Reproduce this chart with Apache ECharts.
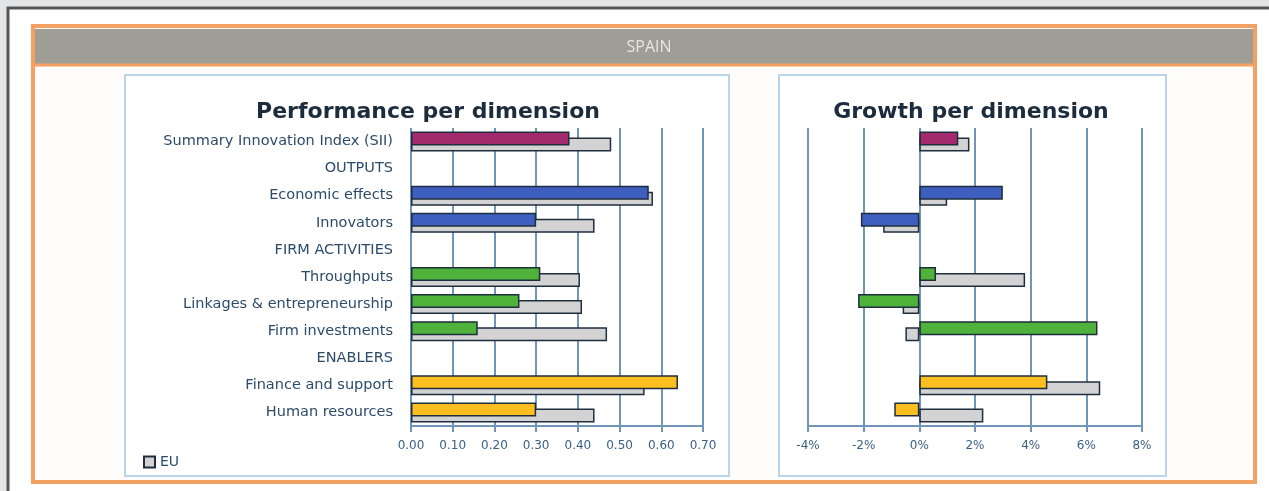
<!DOCTYPE html>
<html>
<head>
<meta charset="utf-8">
<script src="https://cdn.jsdelivr.net/npm/echarts@6/dist/echarts.min.js"></script>
<style>
  html, body { margin: 0; padding: 0; background: #e4e5e7; }
  #main { width: 1269px; height: 491px; }
</style>
</head>
<body>
<div id="main"></div>
<script>
// chart data
var categories = [
  'Summary Innovation Index (SII)', 'OUTPUTS', 'Economic effects', 'Innovators',
  'FIRM ACTIVITIES', 'Throughputs', 'Linkages & entrepreneurship', 'Firm investments',
  'ENABLERS', 'Finance and support', 'Human resources'
];
var groups = ['sii', null, 'outputs', 'outputs', null, 'firm', 'firm', 'firm', null, 'enablers', 'enablers'];
var spainPerf = [0.38, null, 0.57, 0.30, null, 0.31, 0.26, 0.16, null, 0.64, 0.30];
var euPerf = [0.48, null, 0.58, 0.44, null, 0.405, 0.41, 0.47, null, 0.56, 0.44];
var spainGrowth = [1.4, null, 3.0, -2.1, null, 0.6, -2.2, 6.4, null, 4.6, -0.9];
var euGrowth = [1.8, null, 1.0, -1.3, null, 3.8, -0.6, -0.5, null, 6.5, 2.3];
var perfTicks = [0, 0.7, 0.1];
var growthTicks = [-4, 8, 2];

var groupColors = { sii: '#a32a6c', outputs: '#3f5fc0', firm: '#4fb33b', enablers: '#fdbf1f' };
var edge = '#1f2e3e';
var grid = '#6f96b8';
var txt = '#2c4b6b';

function coloured(values) {
  return values.map(function (v, i) {
    if (v === null) return '-';
    return { value: v, itemStyle: { color: groupColors[groups[i]] } };
  });
}
function plain(values) {
  return values.map(function (v) { return v === null ? '-' : v; });
}

function valueAxis(idx, ticks, fmt) {
  return {
    type: 'value', gridIndex: idx, min: ticks[0], max: ticks[1], interval: ticks[2],
    axisLine: { show: true, lineStyle: { color: grid, width: 2 } },
    axisTick: { show: true, length: 6, lineStyle: { color: grid, width: 2 } },
    splitLine: { show: true, lineStyle: { color: grid, width: 2 } },
    axisLabel: { formatter: fmt, color: '#3b6086', fontSize: 12, fontFamily: 'DejaVu Sans', margin: 14 }
  };
}

var chart = echarts.init(document.getElementById('main'));
chart.setOption({
  animation: false,
  backgroundColor: '#e4e5e7',
  graphic: [
    { type: 'rect', z: -10, shape: { x: 8, y: 8, width: 1280, height: 500 },
      style: { fill: '#ffffff', stroke: '#555555', lineWidth: 3 } },
    { type: 'rect', z: -9, shape: { x: 33, y: 26, width: 1222, height: 456 },
      style: { fill: '#fffdfc', stroke: '#f4a062', lineWidth: 4 } },
    { type: 'rect', z: -8, shape: { x: 35, y: 29, width: 1218, height: 35 },
      style: { fill: '#9e9e96' } },
    { type: 'line', z: -8, shape: { x1: 35, y1: 65, x2: 1253, y2: 65 },
      style: { stroke: '#f4a062', lineWidth: 3 } },
    { type: 'text', z: -7, x: 649, y: 39,
      style: { text: 'SPAIN', fill: '#e9e6de', font: '16px "Open Sans"', align: 'center' } },
    { type: 'rect', z: -7, shape: { x: 125, y: 75, width: 604, height: 401 },
      style: { fill: '#ffffff', stroke: '#b8d5ea', lineWidth: 2 } },
    { type: 'rect', z: -7, shape: { x: 779, y: 75, width: 387, height: 401 },
      style: { fill: '#ffffff', stroke: '#b8d5ea', lineWidth: 2 } }
  ],
  title: [
    { text: 'Performance per dimension', left: 423, top: 96, textAlign: 'center',
      textStyle: { fontFamily: 'DejaVu Sans', fontWeight: 'bold', fontSize: 22, color: '#1c2c3c' } },
    { text: 'Growth per dimension', left: 966, top: 96, textAlign: 'center',
      textStyle: { fontFamily: 'DejaVu Sans', fontWeight: 'bold', fontSize: 22, color: '#1c2c3c' } }
  ],
  legend: {
    data: [{ name: 'EU', icon: 'rect' }], left: 138, top: 450, itemWidth: 11, itemHeight: 11, itemGap: 4,
    textStyle: { color: txt, fontSize: 14, fontFamily: 'DejaVu Sans' }
  },
  grid: [
    { left: 411, right: 566, top: 128, bottom: 65 },
    { left: 808, right: 127, top: 128, bottom: 65 }
  ],
  xAxis: [
    valueAxis(0, perfTicks, function (v) { return v.toFixed(2); }),
    valueAxis(1, growthTicks, function (v) { return v + '%'; })
  ],
  yAxis: [
    { type: 'category', gridIndex: 0, data: categories, inverse: true,
      axisLine: { show: false }, axisTick: { show: false }, splitLine: { show: false },
      axisLabel: { color: txt, fontSize: 14.5, fontFamily: 'DejaVu Sans', margin: 18 } },
    { type: 'category', gridIndex: 1, data: categories, inverse: true,
      axisLine: { show: false }, axisTick: { show: false }, axisLabel: { show: false } }
  ],
  series: [
    { name: 'Spain', type: 'bar', xAxisIndex: 0, yAxisIndex: 0, z: 3, barWidth: 14, barGap: '-57%',
      data: coloured(spainPerf), itemStyle: { borderColor: edge, borderWidth: 1.5 } },
    { name: 'EU', type: 'bar', xAxisIndex: 0, yAxisIndex: 0, z: 2, barWidth: 14,
      data: plain(euPerf), itemStyle: { color: '#d3d3d3', borderColor: edge, borderWidth: 1.5 } },
    { name: 'Spain', type: 'bar', xAxisIndex: 1, yAxisIndex: 1, z: 3, barWidth: 14, barGap: '-57%',
      data: coloured(spainGrowth), itemStyle: { borderColor: edge, borderWidth: 1.5 } },
    { name: 'EU', type: 'bar', xAxisIndex: 1, yAxisIndex: 1, z: 2, barWidth: 14,
      data: plain(euGrowth), itemStyle: { color: '#d3d3d3', borderColor: edge, borderWidth: 1.5 } }
  ]
});
</script>
</body>
</html>
